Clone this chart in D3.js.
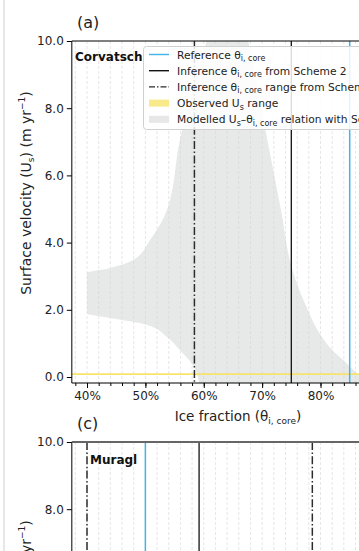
<!DOCTYPE html>
<html>
<head>
<meta charset="utf-8">
<script src="https://cdn.jsdelivr.net/npm/d3@7"></script>
<style>
  body { margin: 0; background: #fff; }
  svg { display: block; font-family: "DejaVu Sans", sans-serif; }
</style>
</head>
<body>
<svg id="main" width="359" height="551"></svg>
<script>
// ---- data ----
var sites = ["Corvatsch", "Muragl"];
var panelTags = ["(a)", "(c)"];
var xTicks = [40, 50, 60, 70, 80, 90];
var yTicks = [0, 2, 4, 6, 8, 10];
var refTheta = [85, 50];
var inferTheta = [75, 59.2];
var inferRangeLow = [58.4, 40.0];
var inferRangeHigh = [93, 78.6];
var obsUsLow = [0.06, null];
var obsUsHigh = [0.11, null];

// modelled Us-theta band for Corvatsch (theta range for each Us)
var bandLeftUs = [-0.3, 0, 0.36, 0.8, 1.19, 1.55, 1.76, 1.9, 3.1, 3.24, 3.48, 4.08, 4.97, 7.05, 8.5, 10.4];
var bandLeftTheta = [59.4, 59.0, 58.1, 55.9, 53.7, 50.3, 43.9, 40, 40, 43.9, 47.9, 50.8, 53.7, 55.9, 58.0, 61.2];
var bandRightUs = [-0.3, 0, 0.12, 0.42, 0.8, 1.31, 2.08, 3.18, 5.0, 7.05, 10.4];
var bandRightTheta = [88.5, 87, 86.2, 84.4, 82, 79.8, 77.6, 75.2, 73.2, 70.9, 67.2];

var svg = d3.select("#main");

// faint figure border on the left
svg.append("line").attr("x1", 4).attr("x2", 4).attr("y1", 0).attr("y2", 551)
  .attr("stroke", "#d0d0d0").attr("stroke-width", 1);

var x = d3.scaleLinear().domain([40, 80]).range([87, 320.5]);
var plotLeft = x(37.4), plotRight = x(92);

var panels = [
  {top: 41, y0: 377, bottom: 383},
  {top: 442, y0: 778, bottom: 784}
];

function gridAndLines(g, i, y, p) {
  var clipId = "clip" + i;
  g.append("clipPath").attr("id", clipId).append("rect")
    .attr("x", plotLeft).attr("y", p.top)
    .attr("width", plotRight - plotLeft).attr("height", p.bottom - p.top);
  var inner = g.append("g").attr("clip-path", "url(#" + clipId + ")");

  if (i === 0) {
    var left = bandLeftUs.map(function(u, k) { return [x(bandLeftTheta[k]), y(u)]; });
    var right = bandRightUs.map(function(u, k) { return [x(bandRightTheta[k]), y(u)]; }).reverse();
    var ln = d3.line().curve(d3.curveMonotoneY);
    var d = ln(left) + "L" + ln(right).slice(1) + "Z";
    inner.append("path").attr("d", d).attr("fill", "#e7e8e8").attr("stroke", "none");
  }

  // dashed vertical grid every 2 %
  inner.selectAll("line.grid").data(d3.range(38, 92, 2)).join("line")
    .attr("class", "grid")
    .attr("x1", function(d) { return x(d); }).attr("x2", function(d) { return x(d); })
    .attr("y1", p.top).attr("y2", p.bottom)
    .attr("stroke", "#d6d6d6").attr("stroke-width", 0.8)
    .attr("stroke-dasharray", "3,2").attr("opacity", 0.75);

  if (obsUsLow[i] != null) {
    inner.append("rect").attr("x", plotLeft).attr("width", plotRight - plotLeft)
      .attr("y", y(obsUsHigh[i])).attr("height", y(obsUsLow[i]) - y(obsUsHigh[i]))
      .attr("fill", "#f6e36a");
  }

  // inference range (dash-dot)
  inner.selectAll("line.rng").data([inferRangeLow[i], inferRangeHigh[i]]).join("line")
    .attr("class", "rng")
    .attr("x1", function(d) { return x(d); }).attr("x2", function(d) { return x(d); })
    .attr("y1", p.top).attr("y2", p.bottom)
    .attr("stroke", "#2b2b2b").attr("stroke-width", 1.5)
    .attr("stroke-dasharray", "8,2.4,1.5,2.4");

  inner.append("line").attr("x1", x(inferTheta[i])).attr("x2", x(inferTheta[i]))
    .attr("y1", p.top).attr("y2", p.bottom).attr("stroke", "#111").attr("stroke-width", 1.3);

  inner.append("line").attr("x1", x(refTheta[i])).attr("x2", x(refTheta[i]))
    .attr("y1", p.top).attr("y2", p.bottom).attr("stroke", "#3fb5e8").attr("stroke-width", 1.5);
}

panels.forEach(function(p, i) {
  var y = d3.scaleLinear().domain([0, 10]).range([p.y0, p.top]);
  var g = svg.append("g");

  gridAndLines(g, i, y, p);

  // spines
  g.append("line").attr("x1", plotLeft).attr("x2", plotLeft).attr("y1", p.top).attr("y2", p.bottom)
    .attr("stroke", "#000").attr("stroke-width", 1);
  g.append("line").attr("x1", plotLeft).attr("x2", plotRight).attr("y1", p.top).attr("y2", p.top)
    .attr("stroke", i === 0 ? "#000" : "#666").attr("stroke-width", i === 0 ? 1 : 2.2);

  // y axis
  var ya = g.append("g").attr("transform", "translate(" + plotLeft + ",0)")
    .call(d3.axisLeft(y).tickValues(yTicks).tickFormat(d3.format(".1f")).tickSize(5).tickPadding(3));
  ya.select(".domain").remove();
  ya.selectAll("text").attr("font-size", 12).attr("fill", "#222")
    .attr("font-family", "DejaVu Sans, sans-serif");

  // panel tag
  g.append("text").attr("x", 77).attr("y", p.top - 13).attr("font-size", 16)
    .attr("fill", "#222").text(panelTags[i]);

  // site name
  g.append("text").attr("x", i === 0 ? 75 : 90).attr("y", p.top + (i === 0 ? 20 : 22))
    .attr("font-size", 12).attr("font-weight", "bold").attr("fill", "#111").text(sites[i]);

  // y label
  var yl = g.append("text")
    .attr("transform", "translate(31," + (i === 0 ? 193 : 622) + ") rotate(-90)")
    .attr("text-anchor", "middle").attr("font-size", 14).attr("fill", "#222");
  yl.append("tspan").text("Surface velocity (U");
  yl.append("tspan").attr("font-size", 9).attr("dy", 3).text("s");
  yl.append("tspan").attr("dy", -3).text(") (m yr");
  yl.append("tspan").attr("font-size", 9).attr("dy", -6).text("\u22121");
  yl.append("tspan").attr("dy", 6).text(")");

  if (i === 0) {
    // x axis
    g.append("line").attr("x1", plotLeft).attr("x2", plotRight).attr("y1", p.bottom).attr("y2", p.bottom)
      .attr("stroke", "#000").attr("stroke-width", 1);
    var minor = g.append("g").attr("transform", "translate(0," + p.bottom + ")")
      .call(d3.axisBottom(x).tickValues(d3.range(38, 92, 2)).tickSize(3).tickFormat(""));
    minor.select(".domain").remove();
    var xa = g.append("g").attr("transform", "translate(0," + p.bottom + ")")
      .call(d3.axisBottom(x).tickValues(xTicks).tickSize(5).tickPadding(3)
        .tickFormat(function(d) { return d + "%"; }));
    xa.select(".domain").remove();
    xa.selectAll("text").attr("font-size", 12).attr("fill", "#222")
      .attr("font-family", "DejaVu Sans, sans-serif");

    var xl = g.append("text").attr("x", 238).attr("y", 421).attr("text-anchor", "middle")
      .attr("font-size", 13.5).attr("fill", "#222");
    xl.append("tspan").text("Ice fraction (\u03b8");
    xl.append("tspan").attr("font-size", 9).attr("dy", 3).text("i, core");
    xl.append("tspan").attr("dy", -3).text(")");

    // legend
    var lg = g.append("g");
    lg.append("rect").attr("x", 143.5).attr("y", 46.5).attr("width", 300).attr("height", 83)
      .attr("rx", 3).attr("fill", "#fff").attr("fill-opacity", 0.85)
      .attr("stroke", "#d0d0d0").attr("stroke-width", 1);
    var items = [
      {kind: "line", color: "#3fb5e8", dash: null, parts: [["Reference \u03b8", 0], ["i, core", 1]]},
      {kind: "line", color: "#111", dash: null, parts: [["Inference \u03b8", 0], ["i, core", 1], [" from Scheme 2", 0]]},
      {kind: "line", color: "#2b2b2b", dash: "6,2,1.5,2", parts: [["Inference \u03b8", 0], ["i, core", 1], [" range from Scheme 1", 0]]},
      {kind: "box", color: "#f8ea8a", parts: [["Observed U", 0], ["s", 1], [" range", 0]]},
      {kind: "box", color: "#e7e7e7", parts: [["Modelled U", 0], ["s", 1], ["\u2013\u03b8", 0], ["i, core", 1], [" relation with Scheme 1", 0]]}
    ];
    items.forEach(function(it, k) {
      var cy = 54.5 + k * 16.2;
      if (it.kind === "line") {
        lg.append("line").attr("x1", 149).attr("x2", 169).attr("y1", cy).attr("y2", cy)
          .attr("stroke", it.color).attr("stroke-width", 1.4)
          .attr("stroke-dasharray", it.dash);
      } else {
        lg.append("rect").attr("x", 149).attr("y", cy - 3.5).attr("width", 20).attr("height", 7)
          .attr("fill", it.color);
      }
      var t = lg.append("text").attr("x", 177).attr("y", cy + 4).attr("font-size", 10.7).attr("fill", "#222");
      var shifted = false;
      it.parts.forEach(function(pt) {
        var s = t.append("tspan").text(pt[0]);
        if (pt[1]) { s.attr("font-size", 8).attr("dy", 2.5); shifted = true; }
        else if (shifted) { s.attr("dy", -2.5); shifted = false; }
      });
    });
  }
});
</script>
</body>
</html>
